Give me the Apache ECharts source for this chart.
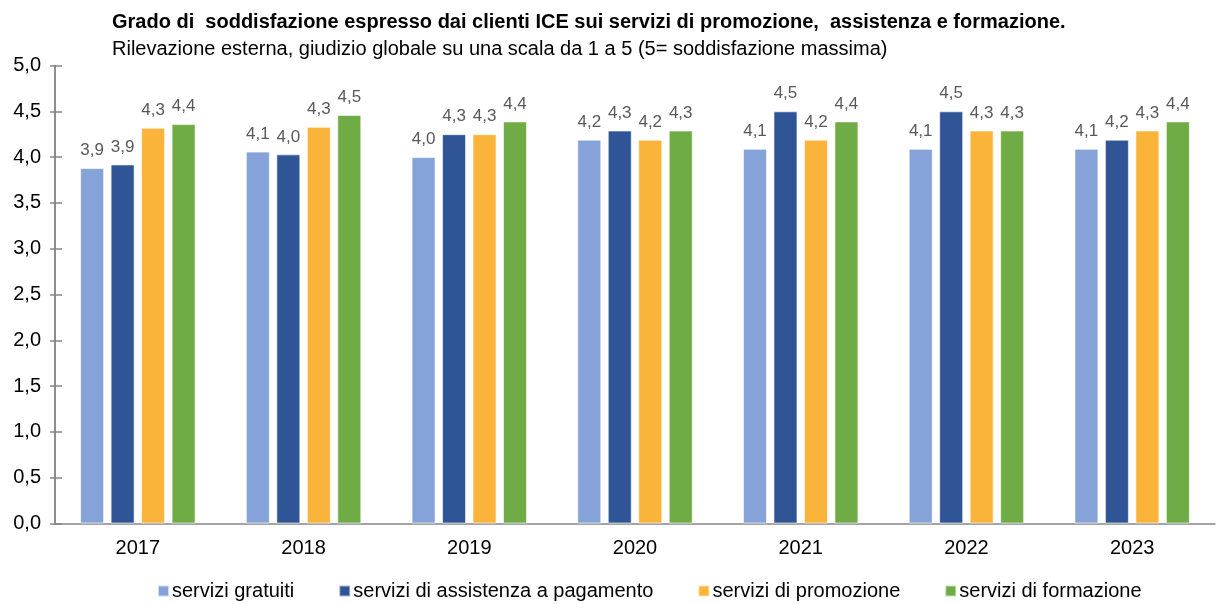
<!DOCTYPE html>
<html><head><meta charset="utf-8">
<script src="https://cdn.jsdelivr.net/npm/echarts@6/dist/echarts.min.js"></script>
<style>html,body{margin:0;padding:0;background:#fff}#c{width:1230px;height:604px}</style>
</head><body><div id="c"></div>
<script>
const years = ['2017','2018','2019','2020','2021','2022','2023'];
const seriesNames = ['servizi gratuiti','servizi di assistenza a pagamento','servizi di promozione','servizi di formazione'];
const gratuiti   = [3.88, 4.06, 4.00, 4.19, 4.09, 4.09, 4.09];
const assistenza = [3.92, 4.03, 4.25, 4.29, 4.50, 4.50, 4.19];
const promozione = [4.32, 4.33, 4.25, 4.19, 4.19, 4.29, 4.29];
const formazione = [4.36, 4.46, 4.39, 4.29, 4.39, 4.29, 4.39];
const yTicks = [0, 0.5, 1, 1.5, 2, 2.5, 3, 3.5, 4, 4.5, 5];
const colors = ['#86A3D9', '#2F5597', '#FAB43A', '#6FAC46'];

const fmt = v => v.toFixed(1).replace('.', ',');
const chart = echarts.init(document.getElementById('c'));
const data = [gratuiti, assistenza, promozione, formazione];
const axisColor = '#868686';
chart.setOption({
  animation: false,
  textStyle: {fontFamily: 'Liberation Sans, Arial, sans-serif'},
  title: {
    text: 'Grado di  soddisfazione espresso dai clienti ICE sui servizi di promozione,  assistenza e formazione.',
    subtext: 'Rilevazione esterna, giudizio globale su una scala da 1 a 5 (5= soddisfazione massima)',
    left: 112, top: 10, itemGap: 3, padding: 0,
    textStyle: {fontSize: 20, lineHeight: 24, fontWeight: 'bold', color: '#000', fontFamily: 'Liberation Sans'},
    subtextStyle: {fontSize: 20, lineHeight: 24, color: '#000', fontFamily: 'Liberation Sans'}
  },
  legend: {
    bottom: 2, left: 157, padding: 0, itemWidth: 11, itemHeight: 11, itemGap: 44,
    icon: 'rect',
    textStyle: {fontSize: 20, lineHeight: 22, color: '#000', fontFamily: 'Liberation Sans', padding: [0,0,0,-2]},
    data: seriesNames
  },
  grid: {left: 55, right: 15, top: 65.5, bottom: 80.5, containLabel: false},
  xAxis: {
    type: 'category', data: years,
    axisLine: {lineStyle: {color: axisColor, width: 1.5}},
    axisTick: {show: false},
    axisLabel: {fontSize: 20, color: '#000', margin: 15}
  },
  yAxis: [{
    type: 'value', min: 0, max: 5, interval: 0.5,
    splitLine: {show: false},
    axisLine: {show: true, lineStyle: {color: axisColor, width: 1.5}},
    axisTick: {show: true, length: 5, lineStyle: {color: axisColor, width: 1.5}},
    axisLabel: {fontSize: 20, color: '#000', margin: 14, formatter: v => yTicks.includes(v) ? fmt(v) : ''}
  }, {
    type: 'value', min: 0, max: 5, interval: 0.5, position: 'left',
    splitLine: {show: false},
    axisLine: {show: true, lineStyle: {color: axisColor, width: 1.5}},
    axisTick: {show: true, inside: true, length: 7, lineStyle: {color: axisColor, width: 1.5}},
    axisLabel: {show: false}
  }],
  series: data.map((d, i) => ({
    name: seriesNames[i], type: 'bar', data: d,
    barWidth: 24, barGap: '27%',
    itemStyle: {color: colors[i], borderColor: 'rgba(255,255,255,0.6)', borderWidth: 1},
    label: {show: true, position: 'top', distance: 9, fontSize: 17, color: '#595959', formatter: p => fmt(p.value)}
  }))
});
</script></body></html>
